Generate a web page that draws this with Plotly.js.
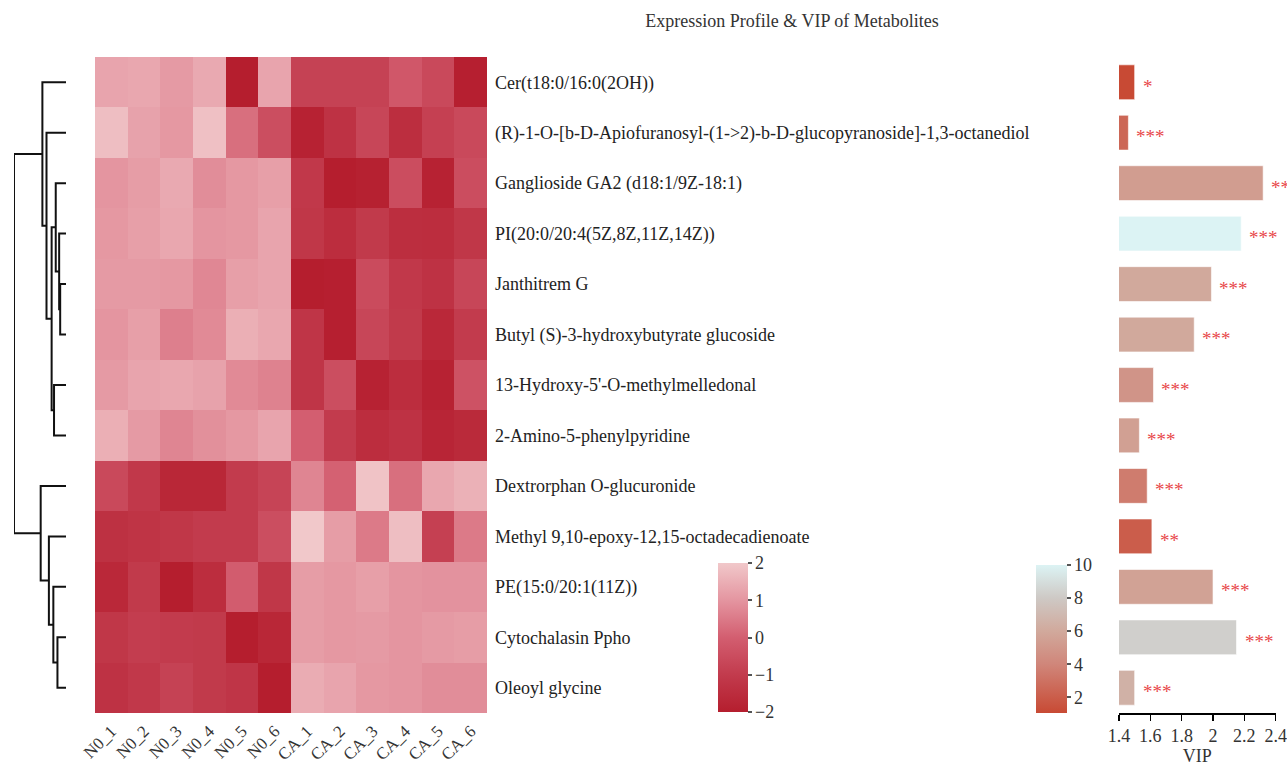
<!DOCTYPE html>
<html>
<head>
<meta charset="utf-8">
<script src="https://cdn.plot.ly/plotly-3.0.1.min.js"></script>
<style>html,body{margin:0;padding:0;background:#fff;}#chart{width:1287px;height:768px;}</style>
</head>
<body>
<div id="chart"></div>
<script>
// ---------- data ----------
const metabolites = [
  "Cer(t18:0/16:0(2OH))",
  "(R)-1-O-[b-D-Apiofuranosyl-(1->2)-b-D-glucopyranoside]-1,3-octanediol",
  "Ganglioside GA2 (d18:1/9Z-18:1)",
  "PI(20:0/20:4(5Z,8Z,11Z,14Z))",
  "Janthitrem G",
  "Butyl (S)-3-hydroxybutyrate glucoside",
  "13-Hydroxy-5'-O-methylmelledonal",
  "2-Amino-5-phenylpyridine",
  "Dextrorphan O-glucuronide",
  "Methyl 9,10-epoxy-12,15-octadecadienoate",
  "PE(15:0/20:1(11Z))",
  "Cytochalasin Ppho",
  "Oleoyl glycine"
];
const samples = ["N0_1","N0_2","N0_3","N0_4","N0_5","N0_6","CA_1","CA_2","CA_3","CA_4","CA_5","CA_6"];

// scaled expression (z-score) per metabolite row
const expr = [
  [ 1.30, 1.35, 1.10, 1.40,-2.00, 1.30,-0.80,-0.80,-0.80,-0.20,-0.60,-1.95],
  [ 1.80, 1.25, 1.05, 1.85, 0.30,-0.45,-1.85,-1.30,-0.70,-1.45,-0.85,-0.60],
  [ 1.00, 1.15, 1.40, 0.85, 1.05, 1.20,-1.10,-2.00,-1.90,-0.50,-1.85,-0.50],
  [ 1.05, 1.20, 1.35, 1.00, 1.05, 1.30,-1.15,-1.50,-1.05,-1.45,-1.50,-1.15],
  [ 1.10, 1.10, 1.05, 0.75, 1.20, 1.30,-2.00,-1.95,-0.55,-1.10,-1.30,-0.70],
  [ 1.00, 1.20, 0.60, 0.80, 1.50, 1.35,-1.20,-1.95,-0.70,-1.05,-1.65,-1.00],
  [ 1.10, 1.30, 1.35, 1.25, 0.80, 0.65,-1.20,-0.45,-1.85,-1.50,-1.85,-0.35],
  [ 1.50, 1.10, 0.70, 0.90, 1.05, 1.30, 0.00,-1.00,-1.50,-1.30,-1.75,-1.60],
  [-0.60,-1.10,-1.70,-1.70,-1.00,-0.75, 0.70, 0.05, 1.90, 0.30, 1.35, 1.55],
  [-1.35,-1.25,-1.15,-1.00,-1.00,-0.45, 2.00, 1.15, 0.50, 1.80,-0.85, 0.50],
  [-1.65,-1.05,-2.00,-1.50,-0.05,-1.15, 1.15, 1.05, 1.20, 1.00, 0.95, 0.95],
  [-1.15,-0.95,-1.00,-1.05,-2.00,-1.70, 1.15, 1.05, 1.10, 1.00, 1.10, 1.15],
  [-1.30,-1.10,-0.80,-1.05,-1.20,-2.00, 1.45, 1.30, 1.05, 1.00, 0.85, 0.85]
];

const vip = [1.50, 1.46, 2.32, 2.18, 1.99, 1.88, 1.62, 1.53, 1.58, 1.61, 2.00, 2.15, 1.50];
const vipColorValue = [1.05, 2.5, 5.3, 10.0, 6.0, 6.0, 4.8, 5.5, 3.5, 2.0, 5.6, 8.3, 6.5];
const stars = ["*", "***", "***", "***", "***", "***", "***", "***", "***", "**", "***", "***", "***"];

// hierarchical clustering linkage (leaf indices in display order; node ids continue from 13)
const linkLeft   = [4, 3, 2, 6, 15, 1, 0, 11, 10, 9, 8, 19];
const linkRight  = [5, 13, 14, 7, 16, 17, 18, 12, 20, 21, 22, 23];
const linkHeight = [17, 20, 30, 35, 42, 57, 69, 25, 37, 50, 74, 152];

const heatTicks = [-2, -1, 0, 1, 2];
const vipTicks = [2, 4, 6, 8, 10];

// ---------- build ----------
const FONT = "Liberation Serif, DejaVu Serif, serif";
const W = 1287, H = 768;
const px = v => v / W;
const py = v => 1 - v / H;

const rowIdx = metabolites.map((_, i) => i);
const colIdx = samples.map((_, i) => i);

// dendrogram coordinates from linkage
const nodeY = rowIdx.slice();
const nodeH = rowIdx.map(() => 0);
const dx = [], dy = [];
for (let k = 0; k < linkLeft.length; k++) {
  const a = linkLeft[k], b = linkRight[k], h = linkHeight[k];
  dx.push(nodeH[a], h, h, nodeH[b], null);
  dy.push(nodeY[a], nodeY[a], nodeY[b], nodeY[b], null);
  nodeY.push((nodeY[a] + nodeY[b]) / 2);
  nodeH.push(h);
}

const heatScale = [[0, '#b51e2e'], [0.25, '#c23b4d'], [0.5, '#d35e70'], [0.75, '#e495a0'], [1, '#f1c8ca']];
const vipScale = [[0, '#c84a34'], [0.33, '#d0867a'], [0.553, '#d1a99c'], [0.777, '#cec9c5'], [1, '#dcf3f4']];

const traces = [
  {
    type: 'heatmap', x: colIdx, y: rowIdx, z: expr,
    zmin: -2, zmax: 2, colorscale: heatScale, xgap: 0, ygap: 0,
    colorbar: {
      x: px(718), xanchor: 'left', y: py(563), yanchor: 'top',
      len: 149, lenmode: 'pixels', thickness: 30, thicknessmode: 'pixels',
      xpad: 0, ypad: 0, outlinewidth: 0,
      ticks: 'outside', ticklen: 4, tickwidth: 2, tickcolor: '#555',
      tickvals: heatTicks, tickfont: {family: FONT, size: 18, color: '#333'}
    }
  },
  {
    type: 'scatter', mode: 'lines', x: dx, y: dy, xaxis: 'x2', yaxis: 'y',
    line: {color: '#111', width: 2}, hoverinfo: 'skip', showlegend: false
  },
  {
    type: 'bar', orientation: 'h', x: vip, y: rowIdx, xaxis: 'x3', yaxis: 'y',
    width: 0.69,
    marker: {
      color: vipColorValue, colorscale: vipScale, cmin: 1.05, cmax: 10,
      line: {color: 'rgba(255,255,255,0.6)', width: 1},
      showscale: true,
      colorbar: {
        x: px(1036), xanchor: 'left', y: py(565), yanchor: 'top',
        len: 148, lenmode: 'pixels', thickness: 31, thicknessmode: 'pixels',
        xpad: 0, ypad: 0, outlinewidth: 0,
        ticks: 'outside', ticklen: 4, tickwidth: 2, tickcolor: '#555',
        tickvals: vipTicks, tickfont: {family: FONT, size: 18, color: '#333'}
      }
    },
    showlegend: false
  }
];

const annotations = stars.map((s, i) => ({
  xref: 'x3', yref: 'y', x: vip[i], y: i, text: s, showarrow: false,
  xanchor: 'left', yanchor: 'middle', xshift: 6, yshift: -4,
  font: {family: FONT, size: 19, color: '#e8474a'}
}));

const layout = {
  width: W, height: H,
  margin: {l: 0, r: 0, t: 0, b: 0},
  paper_bgcolor: '#fff', plot_bgcolor: 'rgba(0,0,0,0)',
  font: {family: FONT, color: '#333'},
  showlegend: false,
  title: {
    text: 'Expression Profile & VIP of Metabolites',
    x: px(792), xanchor: 'center', xref: 'paper',
    y: py(21), yanchor: 'middle', yref: 'paper',
    font: {family: FONT, size: 18, color: '#333'}
  },
  xaxis: {
    domain: [px(95), px(487)], range: [-0.5, 11.5], anchor: 'y',
    tickvals: colIdx, ticktext: samples, tickangle: -45, ticks: '',
    ticklabelstandoff: 4,
    showgrid: false, zeroline: false, showline: false,
    tickfont: {family: FONT, size: 17, color: '#333'}
  },
  yaxis: {
    domain: [py(713), py(57)], range: [12.5, -0.5], anchor: 'x', side: 'right',
    tickvals: rowIdx, ticktext: metabolites, ticks: '', ticklabelstandoff: 7,
    showgrid: false, zeroline: false, showline: false,
    tickfont: {family: FONT, size: 18, color: '#222'}
  },
  xaxis2: {
    domain: [px(14), px(66)], range: [152, 0], anchor: 'y', visible: false,
    showgrid: false, zeroline: false
  },
  xaxis3: {
    domain: [px(1119), px(1275.7)], range: [1.4, 2.4], anchor: 'y',
    showline: true, linecolor: '#000', linewidth: 1.5,
    ticks: 'outside', ticklen: 6, tickwidth: 1.5, tickcolor: '#000',
    dtick: 0.2, tick0: 1.4, showgrid: false, zeroline: false,
    tickfont: {family: FONT, size: 18, color: '#333'},
    title: {text: 'VIP', standoff: 4, font: {family: FONT, size: 18, color: '#333'}}
  },
  annotations: annotations
};

Plotly.newPlot('chart', traces, layout, {displayModeBar: false, staticPlot: true});
</script>
</body>
</html>
